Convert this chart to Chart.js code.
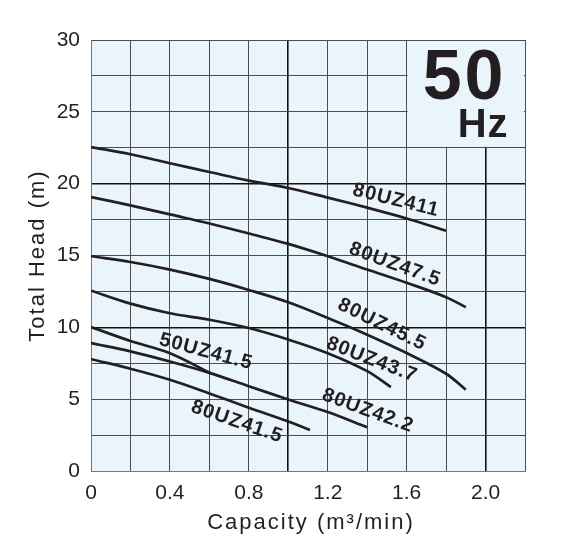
<!DOCTYPE html>
<html>
<head>
<meta charset="utf-8">
<script src="https://cdn.jsdelivr.net/npm/chart.js@4"></script>
<style>
  html, body { margin: 0; padding: 0; background: #fff; }
  #wrap { width: 582px; height: 551px; }
</style>
</head>
<body>
<div id="wrap"><canvas id="pump-chart" width="582" height="551"></canvas></div>
<script>
// Pump performance curves - 50 Hz

const models = ["80UZ411", "80UZ47.5", "80UZ45.5", "80UZ43.7", "50UZ41.5", "80UZ42.2", "80UZ41.5"];

// capacity (m3/min) / total head (m)
const q411 = [0, 0.2, 0.4, 0.6, 0.8, 1.0, 1.2, 1.4, 1.6, 1.8];
const h411 = [22.55, 22.05, 21.42, 20.81, 20.21, 19.7, 19.03, 18.33, 17.58, 16.72];

const q475 = [0, 0.2, 0.4, 0.6, 0.8, 1.0, 1.2, 1.4, 1.6, 1.8, 1.9];
const h475 = [19.07, 18.49, 17.86, 17.23, 16.53, 15.81, 14.95, 14.02, 13.1, 12.1, 11.4];

const q455 = [0, 0.2, 0.4, 0.6, 0.8, 1.0, 1.2, 1.4, 1.6, 1.8, 1.9];
const h455 = [14.95, 14.55, 14.02, 13.37, 12.6, 11.74, 10.65, 9.49, 8.21, 6.77, 5.65];

const q437 = [0, 0.2, 0.4, 0.6, 0.8, 1.0, 1.2, 1.4, 1.52];
const h437 = [12.55, 11.65, 10.98, 10.53, 9.95, 9.15, 8.2, 6.95, 5.84];

const q50415 = [0, 0.2, 0.4, 0.61];
const h50415 = [10.02, 9.05, 8.2, 6.78];

const q422 = [0, 0.2, 0.4, 0.6, 0.8, 1.0, 1.2, 1.4];
const h422 = [8.9, 8.33, 7.62, 6.83, 5.9, 4.98, 4.1, 3.04];

const q415 = [0, 0.2, 0.4, 0.6, 0.8, 1.0, 1.11];
const h415 = [7.78, 7.12, 6.35, 5.4, 4.4, 3.45, 2.86];

const capacities = [q411, q475, q455, q437, q50415, q422, q415];
const heads = [h411, h475, h455, h437, h50415, h422, h415];

// where the model names sit (data units) and their tilt
const nameQ = [1.546, 1.541, 1.475, 1.424, 0.583, 1.404, 0.74];
const nameH = [18.84, 14.37, 10.19, 7.74, 8.3, 4.19, 3.42];
const nameAngle = [14, 20, 26, 21, 15, 20, 19];

const ink = '#231f20';
const paper = '#eaf4fb';
const fontFamily = '"Liberation Sans", Arial, sans-serif';

Chart.defaults.font.family = fontFamily;
Chart.defaults.color = ink;

const near = (a, b) => Math.abs(a - b) < 1e-6;

// plot background
const areaFill = {
    id: 'areaFill',
    beforeDraw(chart) {
        const { ctx, chartArea: a } = chart;
        ctx.save();
        ctx.fillStyle = paper;
        ctx.fillRect(a.left, a.top, a.right - a.left, a.bottom - a.top);
        ctx.restore();
    }
};

// "50 Hz" box in the top right corner
const hzBox = {
    id: 'hzBox',
    beforeDatasetsDraw(chart) {
        const { ctx, scales: { x, y } } = chart;
        const x1 = x.getPixelForValue(1.6), x2 = x.getPixelForValue(2.2);
        const y1 = y.getPixelForValue(30), y2 = y.getPixelForValue(22.5);
        ctx.save();
        ctx.fillStyle = paper;
        ctx.fillRect(x1 + 1, y1 + 1, x2 - x1 - 2, y2 - y1 - 2);
        ctx.fillStyle = ink;
        ctx.textAlign = 'left';
        ctx.textBaseline = 'alphabetic';
        ctx.letterSpacing = '3px';
        ctx.font = 'bold 70px ' + fontFamily;
        ctx.fillText('50', x1 + 16, y1 + 59);
        ctx.letterSpacing = '1px';
        ctx.font = 'bold 40px ' + fontFamily;
        ctx.fillText('Hz', x1 + 51, y1 + 97);
        ctx.restore();
    }
};

// model names along the curves
const curveNames = {
    id: 'curveNames',
    afterDatasetsDraw(chart) {
        const { ctx, scales: { x, y } } = chart;
        ctx.save();
        ctx.fillStyle = ink;
        ctx.font = 'bold 20px ' + fontFamily;
        ctx.letterSpacing = '1px';
        ctx.textAlign = 'center';
        ctx.textBaseline = 'middle';
        models.forEach((name, i) => {
            ctx.save();
            ctx.translate(x.getPixelForValue(nameQ[i]), y.getPixelForValue(nameH[i]));
            ctx.rotate(nameAngle[i] * Math.PI / 180);
            ctx.fillText(name, 0, 0);
            ctx.restore();
        });
        ctx.restore();
    }
};

// axis titles (letter spaced)
const axisTitles = {
    id: 'axisTitles',
    afterDraw(chart) {
        const { ctx, chartArea: a } = chart;
        ctx.save();
        ctx.fillStyle = ink;
        ctx.font = '22px ' + fontFamily;
        ctx.letterSpacing = '2px';
        ctx.textAlign = 'center';
        ctx.textBaseline = 'alphabetic';
        ctx.fillText('Capacity (m\u00b3/min)', (a.left + a.right) / 2 + 3, 529);
        ctx.translate(44, (a.top + a.bottom) / 2);
        ctx.rotate(-Math.PI / 2);
        ctx.fillText('Total Head (m)', 0, 0);
        ctx.restore();
    }
};

const datasets = models.map((name, i) => ({
    label: name,
    data: capacities[i].map((q, j) => ({ x: q, y: heads[i][j] })),
    borderColor: ink,
    borderWidth: 2.7,
    pointRadius: 0,
    fill: false,
    tension: 0.35
}));

new Chart(document.getElementById('pump-chart'), {
    type: 'line',
    data: { datasets: datasets },
    options: {
        responsive: false,
        animation: false,
        layout: { padding: { top: 40, right: 57, left: 0, bottom: 0 } },
        plugins: {
            legend: { display: false },
            tooltip: { enabled: false }
        },
        scales: {
            x: {
                type: 'linear',
                min: 0,
                max: 2.2,
                afterFit: s => { s.height = 80; },
                grid: {
                    drawTicks: false,
                    color: c => (near(c.tick.value, 1) || near(c.tick.value, 2)) ? '#111' : '#4d4d4d',
                    lineWidth: c => (near(c.tick.value, 1) || near(c.tick.value, 2)) ? 1.6 : 1
                },
                border: { color: '#777', width: 1 },
                ticks: {
                    stepSize: 0.2,
                    autoSkip: false,
                    maxRotation: 0,
                    padding: 10,
                    font: { size: 21 },
                    callback: (v, i) => (i % 2 === 0 && v < 2.1) ? (v === 0 ? '0' : v.toFixed(1)) : ''
                }
            },
            y: {
                min: 0,
                max: 30,
                afterFit: s => { s.width = 91; },
                grid: {
                    drawTicks: false,
                    color: c => (c.tick.value === 10 || c.tick.value === 20) ? '#111' : '#4d4d4d',
                    lineWidth: c => (c.tick.value === 10 || c.tick.value === 20) ? 1.6 : 1
                },
                border: { color: '#777', width: 1 },
                ticks: {
                    stepSize: 2.5,
                    autoSkip: false,
                    padding: 11,
                    font: { size: 21 },
                    callback: v => v % 5 === 0 ? v : ''
                }
            }
        }
    },
    plugins: [areaFill, hzBox, curveNames, axisTitles]
});
</script>
</body>
</html>
